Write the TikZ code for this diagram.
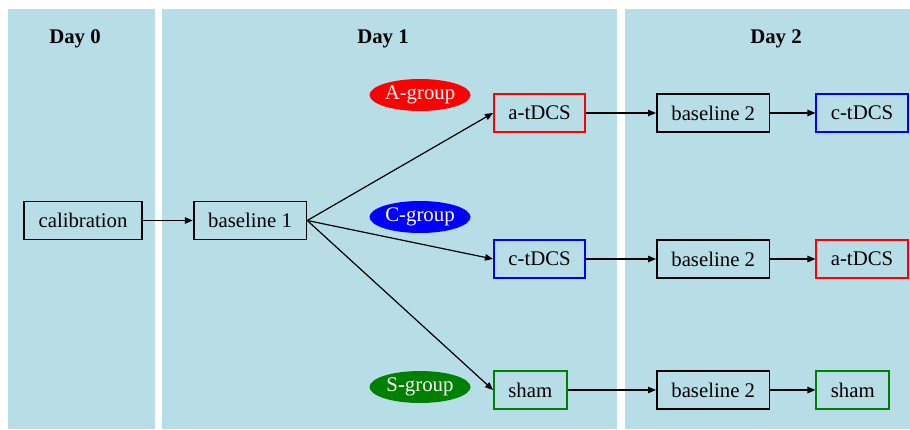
\documentclass[tikz,border=0pt]{standalone}
\usepackage{fontspec}
\setmainfont{Liberation Serif}
\usetikzlibrary{shapes.geometric, arrows.meta, positioning}
\definecolor{panelBlue}{HTML}{B7DDE7}
\definecolor{grpRed}  {HTML}{FF0000}
\definecolor{grpBlue} {HTML}{0000FF}
\definecolor{grpGreen}{HTML}{008000}
\tikzset{
  box/.style   = {rectangle, draw=black, line width=1.7pt, fill=panelBlue,
                  inner xsep=14.5pt, minimum height=38pt,
                  font=\fontsize{20.8}{24}\selectfont},
  redbox/.style   = {box, draw=grpRed},
  bluebox/.style  = {box, draw=grpBlue},
  greenbox/.style = {box, draw=grpGreen},
  group/.style = {ellipse, draw=none, text=white, inner sep=0pt,
                  minimum width=101pt, minimum height=32pt,
                  font=\fontsize{20.8}{24}\selectfont},
  arrow/.style = {-{Triangle[length=8pt, width=6.5pt]}, line width=1.2pt, color=black},
}

\begin{document}
\begin{tikzpicture}[
  x=1pt, y=-1pt,
  node distance=50pt,
  daylabel/.style={font=\fontsize{20.8}{24}\selectfont\bfseries},
]
\useasboundingbox (0,0) rectangle (910,429);
\fill[white] (0,0) rectangle (910,429);
\fill[panelBlue] (8,9) rectangle (155,429);
\fill[panelBlue] (162,9) rectangle (617,429);
\fill[panelBlue] (625,9) rectangle (910,429);

\node[daylabel] (day0) at (75,39)  {Day 0};
\node[daylabel] (day1) at (383,39) {Day 1};
\node[daylabel] (day2) at (776,39) {Day 2};

\node[box] (calib) at (83,220.5) {calibration};
\node[box, right=50pt of calib] (base1) {baseline 1};

\node[group, fill=grpRed]   (agrp) at (420,95)  {A-group};
\node[group, fill=grpBlue]  (cgrp) at (420,217) {C-group};
\node[group, fill=grpGreen] (sgrp) at (420,387) {S-group};

\node[redbox,   anchor=west] (atdcs) at (493,113) {a-tDCS};
\node[bluebox,  anchor=west] (ctdcs) at (493,259) {c-tDCS};
\node[greenbox, anchor=west] (sham)  at (493,390) {sham};

\node[box, anchor=west] (base2a) at (656,113) {baseline 2};
\node[box, anchor=west] (base2c) at (656,259) {baseline 2};
\node[box, anchor=west] (base2s) at (656,390) {baseline 2};

\node[bluebox,  right=45pt of base2a] (ctdcs2) {c-tDCS};
\node[redbox,   right=45pt of base2c] (atdcs2) {a-tDCS};
\node[greenbox, right=45pt of base2s] (sham2)  {sham};

\draw[arrow] (calib) -- (base1);
\draw[arrow] (base1.east) -- (atdcs.west);
\draw[arrow] (base1.east) -- (ctdcs.west);
\draw[arrow] (base1.east) -- (sham.west);
\draw[arrow] (atdcs) -- (base2a);
\draw[arrow] (ctdcs) -- (base2c);
\draw[arrow] (sham)  -- (base2s);
\draw[arrow] (base2a) -- (ctdcs2);
\draw[arrow] (base2c) -- (atdcs2);
\draw[arrow] (base2s) -- (sham2);

\end{tikzpicture}
\end{document}
